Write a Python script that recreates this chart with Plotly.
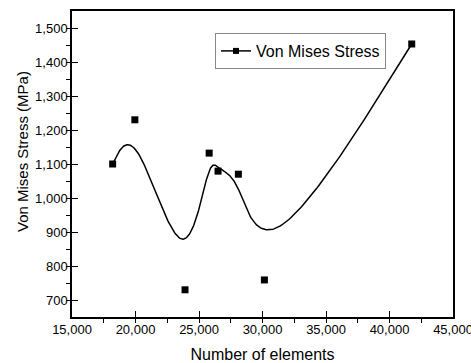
import numpy as np
import plotly.graph_objects as go

# Data
elements = [18200, 19950, 23900, 25800, 26500, 28100, 30150, 41750]
stress = [1100, 1230, 730, 1132, 1079, 1070, 759, 1453]
x_ticks = [15000, 20000, 25000, 30000, 35000, 40000, 45000]
y_ticks = [700, 800, 900, 1000, 1100, 1200, 1300, 1400, 1500]


def bspline(px, py, per_seg=60):
    """Uniform cubic B-spline (Origin 'B-Spline' connect): data points are control
    points, end points repeated three times so the curve starts/ends on them."""
    P = np.column_stack([px, py]).astype(float)
    Q = np.vstack([P[0], P[0], P] + [P[-1], P[-1]])
    M = np.array([[-1, 3, -3, 1],
                  [3, -6, 3, 0],
                  [-3, 0, 3, 0],
                  [1, 4, 1, 0]]) / 6.0
    pts = []
    u = np.linspace(0, 1, per_seg)
    U = np.column_stack([u ** 3, u ** 2, u, np.ones_like(u)])
    for i in range(len(Q) - 3):
        G = Q[i:i + 4]
        seg = U @ M @ G
        pts.append(seg if i == 0 else seg[1:])
    pts = np.vstack(pts)
    return pts[:, 0], pts[:, 1]


cx, cy = bspline(elements, stress)

fig = go.Figure()
fig.add_trace(go.Scatter(x=cx, y=cy, mode="lines", line=dict(color="black", width=1.5),
                         showlegend=False, hoverinfo="skip"))
fig.add_trace(go.Scatter(x=elements, y=stress, mode="markers",
                         marker=dict(symbol="square", size=7, color="black"),
                         showlegend=False))
# legend entry: line with square marker
fig.add_trace(go.Scatter(x=[None], y=[None], mode="lines+markers", name="Von Mises Stress",
                         line=dict(color="black", width=1.5),
                         marker=dict(symbol="square", size=6, color="black")))

font = "Liberation Sans, Arial, sans-serif"
fig.update_layout(
    width=471, height=363,
    margin=dict(l=72, r=18, t=11, b=46),
    paper_bgcolor="white", plot_bgcolor="white",
    font=dict(family=font, color="black", size=13),
    legend=dict(x=(215 - 72) / 381, y=(317 - 33) / 306, xanchor="left", yanchor="top",
                bordercolor="#888888", borderwidth=1, bgcolor="white",
                font=dict(size=16), itemwidth=30, tracegroupgap=0),
    annotations=[dict(text="Von Mises Stress (MPa)", textangle=-90,
                      xref="paper", yref="paper",
                      x=-(72 - 22) / 381, y=(317 - 152) / 306,
                      xanchor="center", yanchor="middle", showarrow=False,
                      font=dict(size=15, family=font, color="black"))],
)
fig.update_xaxes(
    range=[15000, 45000], tickvals=x_ticks, tickformat=",d",
    ticks="inside", ticklen=6, tickwidth=1.3, tickcolor="black",
    minor=dict(dtick=2500, ticks="outside", ticklen=4, tickwidth=1.3, tickcolor="black", showgrid=False),
    showline=True, linecolor="black", linewidth=1.5, mirror=True,
    showgrid=False, zeroline=False, ticklabeloverflow="allow", automargin=False,
    title=dict(text="Number of elements", font=dict(size=16), standoff=12),
    tickfont=dict(size=13),
)
fig.update_yaxes(
    range=[650, 1550], tickvals=y_ticks, tickformat=",d",
    ticks="inside", ticklen=6, tickwidth=1.3, tickcolor="black",
    minor=dict(dtick=50, ticks="outside", ticklen=4, tickwidth=1.3, tickcolor="black", showgrid=False),
    showline=True, linecolor="black", linewidth=1.5, mirror=True,
    showgrid=False, zeroline=False, automargin=False,
    tickfont=dict(size=13),
)

fig.write_html("out.html", config={"displayModeBar": False},
               post_script="document.body.style.margin='0';document.body.style.overflow='hidden';")
